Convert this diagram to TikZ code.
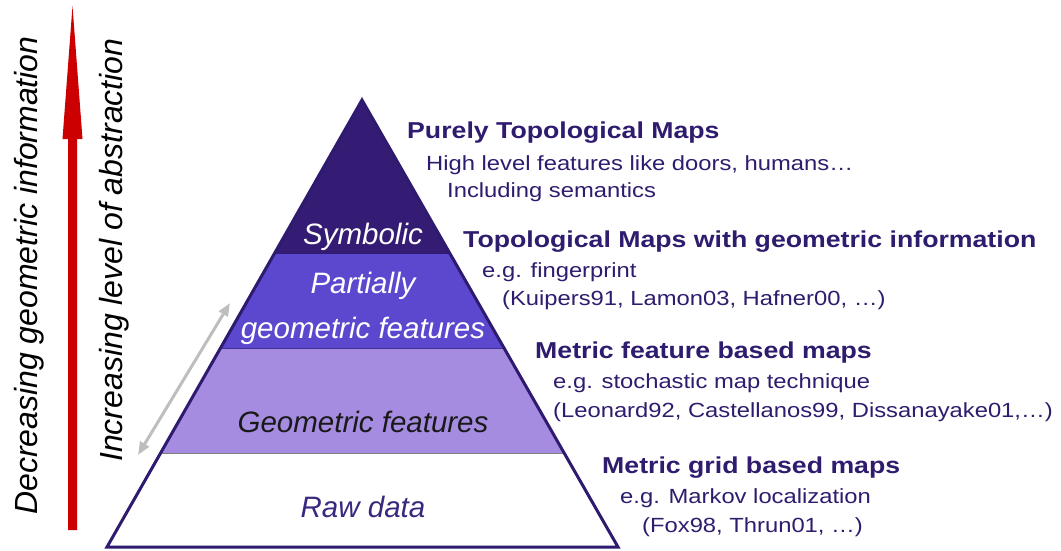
\documentclass[tikz,border=0pt]{standalone}
\usepackage{fontspec}
\setmainfont{Liberation Sans}
\newfontfamily\widesans[FakeStretch=1.16]{Liberation Sans}
\usetikzlibrary{arrows.meta}

\definecolor{ink}{RGB}{48,28,110}
\definecolor{rawink}{RGB}{58,40,126}
\definecolor{symb}{RGB}{52,28,116}
\definecolor{part}{RGB}{92,72,206}
\definecolor{geom}{RGB}{166,140,224}
\definecolor{edge}{RGB}{46,26,110}
\definecolor{arrowred}{RGB}{204,0,0}
\definecolor{softgrey}{RGB}{190,190,190}

\begin{document}
\begin{tikzpicture}[x=1pt,y=-1pt,
  title/.style={anchor=base west, inner sep=0, text=ink,
    font=\widesans\bfseries\fontsize{23}{27}\selectfont},
  detail/.style={anchor=base west, inner sep=0, text=ink,
    font=\widesans\fontsize{20.5}{24}\selectfont},
  layer/.style={anchor=base, inner sep=0,
    font=\itshape\fontsize{29.5}{34}\selectfont},
  axislabel/.style={rotate=90, anchor=base west, inner sep=0,
    font=\itshape\fontsize{32}{36}\selectfont},
  separator/.style={line width=0.8}]

\useasboundingbox (0,0) rectangle (1061,550);
\fill[white] (0,0) rectangle (1061,550);

% pyramid corners
\coordinate (apex) at (362,100);
\coordinate (bl) at (107,547);
\coordinate (br) at (618,547);

% coloured layers
\begin{scope}
  \clip (apex) -- (bl) -- (br) -- cycle;
  \fill[symb] (0,90) rectangle (700,253);
  \fill[part] (0,253) rectangle (700,348);
  \fill[geom] (0,348) rectangle (700,453);
  \draw[separator, edge] (0,253) -- (700,253);
  \draw[separator, part!70!black] (0,348) -- (700,348);
  \draw[separator, gray] (0,453) -- (700,453);
\end{scope}
\draw[edge, line width=3, line join=miter] (apex) -- (bl) -- (br) -- cycle;

% layer names
\node[layer, text=white] (symbolic) at (363,244) {Symbolic};
\node[layer, text=white] (partial1) at (363,293) {Partially};
\node[layer, text=white] (partial2) at (363,338) {geometric features};
\node[layer, text=black!90] (geometric) at (363,432) {Geometric features};
\node[layer, text=rawink] (raw) at (363,517) {Raw data};

% descriptions
\node[title]  (t1)  at (407,138) {Purely Topological Maps};
\node[detail] (t1a) at (426,170) {High level features like doors, humans…};
\node[detail] (t1b) at (447,197) {Including semantics};

\node[title]  (t2)  at (463,247) {Topological Maps with geometric information};
\node[detail] (t2a) at (482,277) {e.g. fingerprint};
\node[detail] (t2b) at (502,305) {(Kuipers91, Lamon03, Hafner00, …)};

\node[title]  (t3)  at (535,358) {Metric feature based maps};
\node[detail] (t3a) at (553,388) {e.g. stochastic map technique};
\node[detail] (t3b) at (553,417) {(Leonard92, Castellanos99, Dissanayake01,…)};

\node[title]  (t4)  at (602,473) {Metric grid based maps};
\node[detail] (t4a) at (620,503) {e.g. Markov localization};
\node[detail] (t4b) at (642,532) {(Fox98, Thrun01, …)};

% side axes
\node[axislabel] (decr) at (37,515) {Decreasing geometric information};
\node[axislabel] (incr) at (122,462) {Increasing level of abstraction};

% long red arrow: shaft and narrow head
\fill[arrowred] (68,530) -- (68,139) -- (62.5,139) -- (72.5,6)
  -- (82.5,139) -- (77,139) -- (77,530) -- cycle;

% grey double arrow beside the pyramid
\coordinate (greylow) at (138,455);
\coordinate (greyhigh) at (230,303);
\draw[softgrey, line width=3,
  {Triangle[length=13pt,width=10pt]}-{Triangle[length=13pt,width=10pt]}]
  (greylow) -- (greyhigh);

\end{tikzpicture}
\end{document}
